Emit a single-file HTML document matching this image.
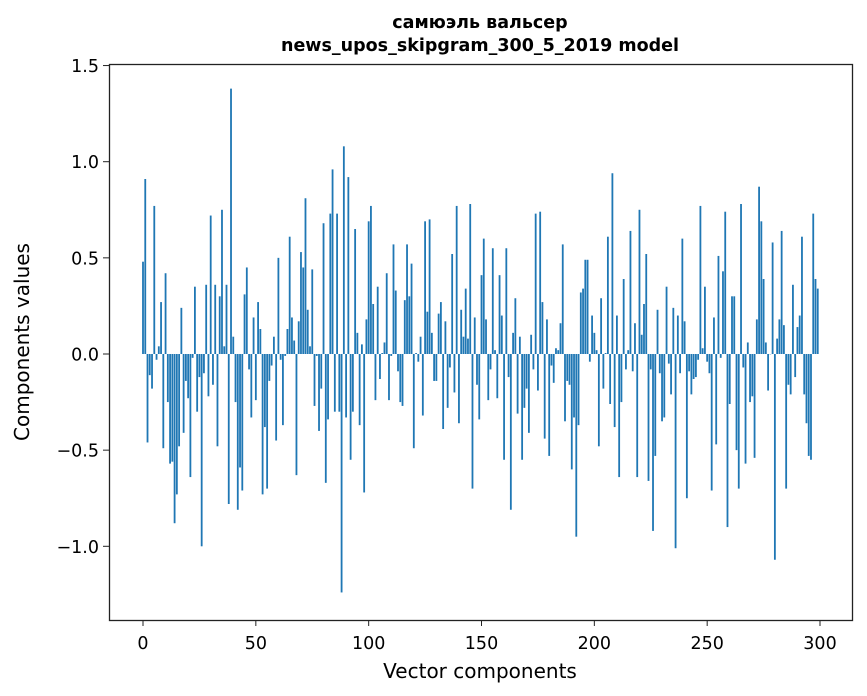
<!DOCTYPE html>
<html><head><meta charset="utf-8"><style>
body{margin:0;background:#fff;}
svg{display:block;font-family:"DejaVu Sans","Liberation Sans",sans-serif;}
</style></head><body>
<svg id="chart" width="867" height="696">
<rect x="0" y="0" width="867" height="696" fill="#fff"/>
<text x="480" y="28" text-anchor="middle" font-size="17.5" font-weight="bold">самюэль вальсер</text>
<text x="480" y="51" text-anchor="middle" font-size="17.5" font-weight="bold">news_upos_skipgram_300_5_2019 model</text>
<g id="bars"></g>
<g id="axes"></g>
<rect x="109.5" y="64.5" width="743" height="556" fill="none" stroke="#222" stroke-width="1.3"/>
<text x="480" y="678" text-anchor="middle" font-size="20">Vector components</text>
<text transform="translate(29,342) rotate(-90)" text-anchor="middle" font-size="20">Components values</text>
</svg>
<script>
const values = [0.48,0.91,-0.46,-0.11,-0.18,0.77,-0.03,0.04,0.27,-0.49,0.42,-0.25,-0.57,-0.56,-0.88,-0.73,-0.48,0.24,-0.41,-0.14,-0.23,-0.64,-0.02,0.35,-0.30,-0.12,-1.0,-0.10,0.36,-0.22,0.72,-0.16,0.36,-0.48,0.30,0.75,0.04,0.36,-0.78,1.38,0.09,-0.25,-0.81,-0.59,-0.71,0.31,0.45,-0.08,-0.33,0.19,
-0.24,0.27,0.13,-0.73,-0.38,-0.70,-0.14,-0.06,0.09,-0.45,0.50,-0.03,-0.37,-0.01,0.13,0.61,0.19,0.07,-0.63,0.17,0.53,0.45,0.81,0.23,0.04,0.44,-0.27,-0.01,-0.40,-0.18,0.68,-0.67,-0.34,0.73,0.96,-0.30,0.73,-0.30,-1.24,1.08,-0.33,0.92,-0.55,-0.30,0.65,0.11,-0.37,0.05,-0.72,
0.18,0.69,0.77,0.26,-0.24,0.35,-0.13,0.005,0.06,0.42,-0.24,-0.01,0.57,0.33,-0.09,-0.25,-0.27,0.28,0.57,0.30,0.47,-0.49,0.005,-0.04,0.09,-0.32,0.69,0.22,0.70,0.11,-0.14,-0.14,0.21,0.27,-0.39,0.17,-0.28,-0.07,0.52,-0.20,0.77,-0.36,0.23,0.09,0.34,0.08,0.78,-0.70,0.19,-0.16,
-0.34,0.41,0.60,0.18,-0.24,-0.08,0.55,0.02,-0.23,0.41,0.20,-0.55,0.55,-0.12,-0.81,0.11,0.29,-0.31,0.09,-0.55,-0.28,-0.18,-0.41,0.10,-0.08,0.73,-0.19,0.74,0.27,-0.44,0.18,-0.53,-0.06,-0.15,0.03,0.02,0.16,0.57,-0.35,-0.14,-0.16,-0.60,-0.33,-0.95,-0.37,0.32,0.34,0.49,0.49,-0.04,0.20,
0.11,0.02,-0.48,0.29,-0.18,0.005,0.61,-0.26,0.94,-0.38,0.20,-0.64,-0.25,0.39,-0.08,0.02,0.64,-0.09,0.16,-0.64,0.75,0.10,0.26,0.52,-0.66,-0.08,-0.92,-0.53,0.23,-0.10,-0.35,-0.33,0.35,-0.05,-0.21,0.24,-1.01,0.20,-0.10,0.60,0.17,-0.75,-0.09,-0.21,-0.13,-0.12,-0.03,0.77,0.03,0.35,
-0.04,-0.10,-0.71,0.19,-0.47,0.51,-0.02,0.43,0.74,-0.90,-0.26,0.30,0.30,-0.50,-0.70,0.78,-0.07,-0.57,0.06,-0.25,-0.22,-0.54,0.18,0.87,0.69,0.39,0.06,-0.19,0.0,0.58,-1.07,0.08,0.18,0.64,0.15,-0.70,-0.16,-0.21,0.36,-0.12,0.14,0.20,0.61,-0.21,-0.36,-0.53,-0.55,0.73,0.39,0.34];
const xTicks = [0,50,100,150,200,250,300];
const yTicks = [-1.0,-0.5,0.0,0.5,1.0,1.5];
const yTickLabels = ["\u22121.0","\u22120.5","0.0","0.5","1.0","1.5"];
const NS="http://www.w3.org/2000/svg";
const xs = v => 143 + v*2.2567;
const ys = v => 354 - v*192.3;
const bars=document.getElementById('bars');
values.forEach((v,i)=>{
  const r=document.createElementNS(NS,'rect');
  const y0=ys(0), y1=ys(v);
  r.setAttribute('x',xs(i-0.4));
  r.setAttribute('width',0.8*2.2567);
  r.setAttribute('y',Math.min(y0,y1));
  r.setAttribute('height',Math.max(Math.abs(y1-y0),0.3));
  r.setAttribute('fill','#1f77b4');
  
  
  bars.appendChild(r);
});
const axes=document.getElementById('axes');
xTicks.forEach(t=>{
  const l=document.createElementNS(NS,'line');
  l.setAttribute('x1',xs(t));l.setAttribute('x2',xs(t));l.setAttribute('y1',620);l.setAttribute('y2',626);
  l.setAttribute('stroke','#222');
  
  
  axes.appendChild(l);
  const tx=document.createElementNS(NS,'text');
  tx.setAttribute('x',xs(t));tx.setAttribute('y',649);tx.setAttribute('text-anchor','middle');tx.setAttribute('font-size','17.5');
  tx.textContent=t;
  
  
  axes.appendChild(tx);
});
yTicks.forEach((t,k)=>{
  const l=document.createElementNS(NS,'line');
  l.setAttribute('x1',103);l.setAttribute('x2',109);l.setAttribute('y1',ys(t));l.setAttribute('y2',ys(t));
  l.setAttribute('stroke','#222');
  
  
  axes.appendChild(l);
  const tx=document.createElementNS(NS,'text');
  tx.setAttribute('x',99);tx.setAttribute('y',ys(t)+6.5);tx.setAttribute('text-anchor','end');tx.setAttribute('font-size','17.5');
  tx.textContent=yTickLabels[k];
  
  
  axes.appendChild(tx);
});
</script>
</body></html>
